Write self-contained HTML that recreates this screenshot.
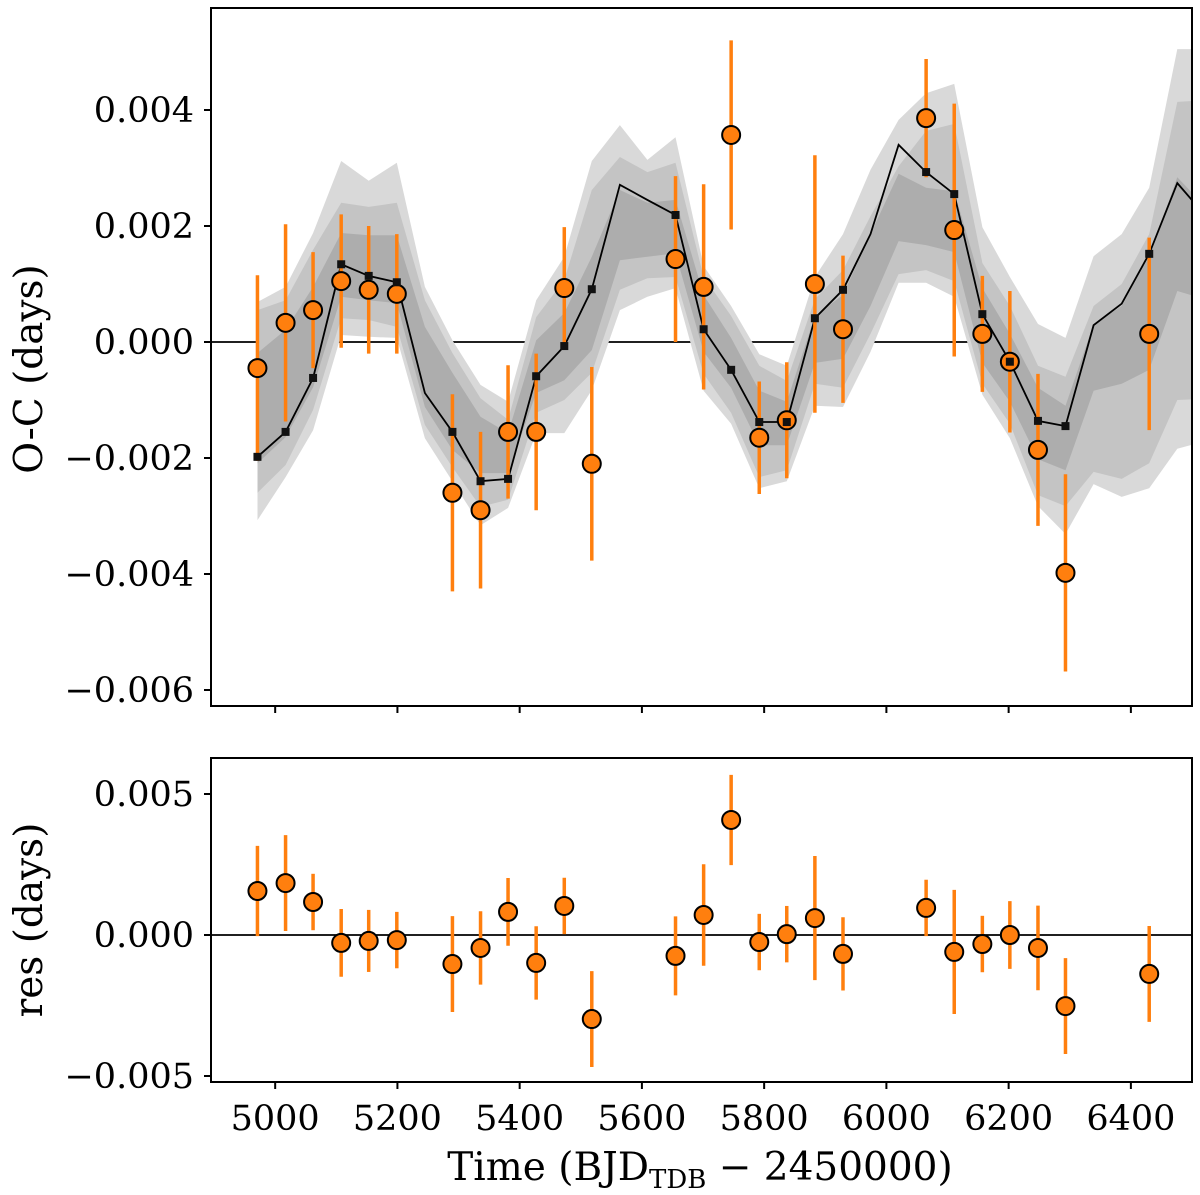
<!DOCTYPE html>
<html><head><meta charset="utf-8"><style>
body{margin:0;background:#fff}
svg{display:block}
.tk{font-family:"DejaVu Serif","Liberation Serif",serif;font-size:35px;fill:#000}
.lab{font-family:"DejaVu Serif","Liberation Serif",serif;font-size:39px;fill:#000}
</style></head><body>
<svg id="c" width="1200" height="1195" xmlns="http://www.w3.org/2000/svg"></svg>
<script>
// model grid times and values (units 1e-3 days)
const modelTimes=[4971,5017,5062,5108,5153,5199,5245,5290,5336,5381,5427,5473,5518,5564,5609,5655,5701,5746,5792,5837,5883,5929,5974,6020,6065,6111,6157,6202,6248,6293,6339,6385,6430,6476,6521];
const modelVals=[-1.98,-1.55,-0.62,1.34,1.14,1.03,-0.88,-1.55,-2.40,-2.36,-0.59,-0.07,0.91,2.71,2.45,2.19,0.22,-0.48,-1.38,-1.38,0.41,0.90,1.86,3.40,2.93,2.55,0.48,-0.34,-1.36,-1.45,0.29,0.66,1.52,2.74,2.19];
const outerTop=[0.69,0.95,1.88,3.12,2.78,3.09,0.95,0.03,-0.74,-1.03,0.72,1.47,3.12,3.74,3.14,3.53,1.31,0.62,-0.21,-0.41,1.12,1.86,2.97,3.83,4.29,4.45,1.98,1.12,0.31,0.07,1.48,1.86,2.66,5.05,5.05];
const midTop=[0.55,0.72,1.59,2.40,2.33,2.40,0.72,-0.19,-0.97,-1.34,0.43,1.07,2.62,3.19,2.93,3.09,1.12,0.45,-0.41,-0.67,0.74,1.24,2.17,3.03,3.64,3.76,1.36,0.62,-0.41,-0.60,0.62,1.00,1.86,4.14,4.17];
const darkTop=[-0.19,0.21,0.95,1.88,1.84,1.84,0.26,-0.53,-1.29,-1.57,0.03,0.50,1.47,2.62,2.40,2.45,0.81,0.07,-0.84,-1.03,0.45,0.81,1.86,2.90,2.66,2.60,0.93,0.14,-0.79,-1.10,0.31,0.62,1.48,2.84,2.34];
const darkBot=[-2.09,-1.64,-0.78,0.78,0.72,0.67,-1.12,-1.86,-2.26,-2.26,-0.88,-0.66,-0.14,1.41,1.47,1.53,-0.17,-0.79,-1.78,-1.78,-0.36,-0.29,0.62,1.74,1.67,1.55,-0.36,-1.03,-2.02,-2.21,-0.84,-0.72,-0.48,0.88,0.74];
const midBot=[-2.60,-2.12,-1.17,0.41,0.38,0.26,-1.43,-2.16,-2.84,-2.72,-1.22,-1.00,-0.53,0.90,1.10,1.12,-0.55,-1.22,-2.33,-2.21,-0.72,-0.79,0.14,1.17,1.24,1.05,-0.72,-1.41,-2.64,-2.83,-2.24,-2.36,-2.09,-1.00,-0.98];
const outerBot=[-3.07,-2.33,-1.52,0.12,0.09,0.07,-1.66,-2.40,-3.16,-2.86,-1.57,-1.57,-0.83,0.55,0.78,0.93,-0.84,-1.41,-2.52,-2.40,-1.10,-1.12,-0.17,1.02,1.02,0.78,-0.91,-1.66,-2.83,-3.31,-2.45,-2.67,-2.52,-1.84,-1.71];
// observations
const obsIdx=[0,1,2,3,4,5,7,8,9,10,11,12,15,16,17,18,19,20,21,24,25,26,27,28,29,32];
const obsVals=[-0.45,0.33,0.55,1.05,0.90,0.83,-2.60,-2.90,-1.55,-1.55,0.93,-2.10,1.43,0.95,3.57,-1.65,-1.35,1.00,0.22,3.86,1.93,0.14,-0.34,-1.86,-3.98,0.14];
const obsErr=[1.6,1.7,1.0,1.15,1.1,1.03,1.7,1.35,1.15,1.35,1.05,1.67,1.43,1.77,1.63,0.97,1.0,2.22,1.27,1.02,2.18,1.0,1.22,1.31,1.7,1.66];
const resVals=[1.56,1.84,1.17,-0.28,-0.21,-0.18,-1.03,-0.46,0.82,-0.99,1.03,-2.98,-0.74,0.71,4.08,-0.25,0.03,0.60,-0.67,0.96,-0.60,-0.32,0.0,-0.46,-2.52,-1.38];
const resErr=[1.6,1.7,1.0,1.2,1.1,1.0,1.7,1.3,1.2,1.3,1.0,1.7,1.4,1.8,1.6,1.0,1.0,2.2,1.3,1.0,2.2,1.0,1.2,1.5,1.7,1.7];
const xTicks=[5000,5200,5400,5600,5800,6000,6200,6400];
const yTicksTop=[-6,-4,-2,0,2,4];
const yTicksTopLbl=["\u22120.006","\u22120.004","\u22120.002","0.000","0.002","0.004"];
const yTicksBot=[-5,0,5];
const yTicksBotLbl=["\u22120.005","0.000","0.005"];

const NS="http://www.w3.org/2000/svg";
const svg=document.getElementById('c');
function mk(tag,attrs,parent){const e=document.createElementNS(NS,tag);for(const k in attrs)e.setAttribute(k,attrs[k]);(parent||svg).appendChild(e);return e;}
const L=211,R=1192,T1=8,B1=706,T2=758,B2=1082;
const X0=4895,X1=6500;
const xs=t=>L+(t-X0)/(X1-X0)*(R-L);
const ys1=v=>342-v*58;
const ys2=v=>935-v*28.2;
const orange="#ff7f0e";

mk('defs',{}).innerHTML='<clipPath id="cp1"><rect x="'+L+'" y="'+T1+'" width="'+(R-L)+'" height="'+(B1-T1)+'"/></clipPath><clipPath id="cp2"><rect x="'+L+'" y="'+T2+'" width="'+(R-L)+'" height="'+(B2-T2)+'"/></clipPath>';

const g1=mk('g',{'clip-path':'url(#cp1)'});


const z1=mk('line',{x1:L,x2:R,y1:ys1(0),y2:ys1(0),stroke:'#000','stroke-width':1.8},g1);


function band(top,bot,fill,name){
  let pts=[];
  for(let i=0;i<modelTimes.length;i++)pts.push(xs(modelTimes[i]).toFixed(1)+','+ys1(top[i]).toFixed(1));
  for(let i=modelTimes.length-1;i>=0;i--)pts.push(xs(modelTimes[i]).toFixed(1)+','+ys1(bot[i]).toFixed(1));
  const p=mk('polygon',{points:pts.join(' '),fill:fill},g1);
  
  
}
band(outerTop,outerBot,'#d9d9d9','band-3sigma');
band(midTop,midBot,'#c4c4c4','band-2sigma');
band(darkTop,darkBot,'#adadad','band-1sigma');
const mline=mk('polyline',{points:modelTimes.map((t,i)=>xs(t).toFixed(1)+','+ys1(modelVals[i]).toFixed(1)).join(' '),fill:'none',stroke:'#000','stroke-width':1.8},g1);


obsIdx.forEach((k,i)=>{
  const x=xs(modelTimes[k]);
  const e=mk('line',{x1:x,x2:x,y1:ys1(obsVals[i]-obsErr[i]),y2:ys1(obsVals[i]+obsErr[i]),stroke:orange,'stroke-width':3.5},g1);
  
  
});
obsIdx.forEach((k,i)=>{
  const x=xs(modelTimes[k]);
  const c=mk('circle',{cx:x,cy:ys1(obsVals[i]),r:9,fill:orange,stroke:'#000','stroke-width':2},g1);
  
  
});
obsIdx.forEach((k)=>{
  const x=xs(modelTimes[k]),y=ys1(modelVals[k]);
  const s=mk('rect',{x:x-4,y:y-4,width:8,height:8,fill:'#111'},g1);
  
  
});
const f1=mk('rect',{x:L,y:T1,width:R-L,height:B1-T1,fill:'none',stroke:'#000','stroke-width':2});



const g2=mk('g',{'clip-path':'url(#cp2)'});


const z2=mk('line',{x1:L,x2:R,y1:ys2(0),y2:ys2(0),stroke:'#000','stroke-width':1.8},g2);


obsIdx.forEach((k,i)=>{
  const x=xs(modelTimes[k]);
  const e=mk('line',{x1:x,x2:x,y1:ys2(resVals[i]-resErr[i]),y2:ys2(resVals[i]+resErr[i]),stroke:orange,'stroke-width':3.5},g2);
  
  
});
obsIdx.forEach((k,i)=>{
  const x=xs(modelTimes[k]);
  const c=mk('circle',{cx:x,cy:ys2(resVals[i]),r:9,fill:orange,stroke:'#000','stroke-width':2},g2);
  
  
});
const f2=mk('rect',{x:L,y:T2,width:R-L,height:B2-T2,fill:'none',stroke:'#000','stroke-width':2});



xTicks.forEach(t=>{
  const x=xs(t);
  [B1,B2].forEach(b=>{
    const l=mk('line',{x1:x,x2:x,y1:b,y2:b+7,stroke:'#000','stroke-width':2});
    
    
  });
  const tx=mk('text',{x:x,y:1130,'text-anchor':'middle','class':'tk'});
  tx.textContent=t;
  
  
});
yTicksTop.forEach((v,i)=>{
  const y=ys1(v);
  const l=mk('line',{x1:L-7,x2:L,y1:y,y2:y,stroke:'#000','stroke-width':2});
  
  
  const tx=mk('text',{x:194,y:y+12,'text-anchor':'end','class':'tk'});
  tx.textContent=yTicksTopLbl[i];
  
  
});
yTicksBot.forEach((v,i)=>{
  const y=ys2(v);
  const l=mk('line',{x1:L-7,x2:L,y1:y,y2:y,stroke:'#000','stroke-width':2});
  
  
  const tx=mk('text',{x:194,y:y+12,'text-anchor':'end','class':'tk'});
  tx.textContent=yTicksBotLbl[i];
  
  
});
</script>
<div style="position:absolute;left:0;top:0;width:1200px;height:1195px;pointer-events:none">
<svg width="1200" height="1195" xmlns="http://www.w3.org/2000/svg">
<text class="lab" transform="translate(42,369) rotate(-90)" text-anchor="middle">O-C (days)</text>
<text class="lab" transform="translate(42,920) rotate(-90)" text-anchor="middle">res (days)</text>
<text x="700" y="1180" text-anchor="middle" class="lab">Time (BJD<tspan font-size="26" dy="8">TDB</tspan><tspan dy="-8"> − 2450000)</tspan></text>
</svg></div>
</body></html>
